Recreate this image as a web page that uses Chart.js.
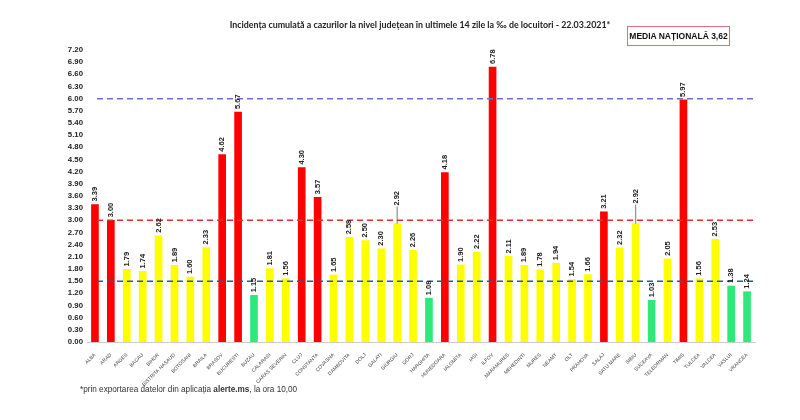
<!DOCTYPE html>
<html>
<head>
<meta charset="utf-8">
<script src="https://cdn.jsdelivr.net/npm/chart.js@4"></script>
<style>
  body { margin:0; background:#fff; }
  #wrap { position:relative; width:800px; height:420px; }
  #title { position:absolute; top:19px; left:20px; width:800px; text-align:center;
    font:bold 8.9px Lato, "Liberation Sans", sans-serif; color:#222; }
  #media { position:absolute; left:627px; top:26px; width:103px; height:20px; box-sizing:border-box;
    border:1px solid #e07080; font:bold 8.5px "Liberation Sans", Arial, sans-serif; color:#111;
    text-align:center; line-height:18px; }
  #note { position:absolute; left:80px; top:385px; font:8.2px "Liberation Sans", Arial, sans-serif; color:#333; }
</style>
</head>
<body>
<div id="wrap">
  <canvas id="chart" width="800" height="420"></canvas>
  <div id="title">Incidența cumulată a cazurilor la nivel județean în ultimele 14 zile la ‰ de locuitori - 22.03.2021*</div>
  <div id="media">MEDIA NAȚIONALĂ 3,62</div>
  <div id="note">*prin exportarea datelor din aplicația <b>alerte.ms</b>, la ora 10,00</div>
</div>
<script>
const judete = ["ALBA","ARAD","ARGES","BACAU","BIHOR","BISTRITA NASAUD","BOTOSANI","BRAILA","BRASOV","BUCURESTI",
  "BUZAU","CALARASI","CARAS SEVERIN","CLUJ","CONSTANTA","COVASNA","DAMBOVITA","DOLJ","GALATI","GIURGIU",
  "GORJ","HARGHITA","HUNEDOARA","IALOMITA","IASI","ILFOV","MARAMURES","MEHEDINTI","MURES","NEAMT",
  "OLT","PRAHOVA","SALAJ","SATU MARE","SIBIU","SUCEAVA","TELEORMAN","TIMIS","TULCEA","VALCEA",
  "VASLUI","VRANCEA"];
const incidenta = [3.39,3.00,1.79,1.74,2.62,1.89,1.60,2.33,4.62,5.67,
  1.15,1.81,1.56,4.30,3.57,1.65,2.58,2.50,2.30,2.92,
  2.26,1.08,4.18,1.90,2.22,6.78,2.11,1.89,1.78,1.94,
  1.54,1.66,3.21,2.32,2.92,1.03,2.05,5.97,1.56,2.53,
  1.38,1.24];
const praguri = [1.5, 3.0, 6.0];
const culoriPrag = ["#1f5f9a", "#e0302a", "#6f6fd0"];
// a couple of labels sit higher with a leader line, like in the original
const ridicate = { 19: 15, 34: 17 };

// bar colour follows the same thresholds as the dashed lines
function culoare(v){
  if(v >= 3) return "#ff0000";
  if(v >= 1.5) return "#ffff00";
  return "#2ee87a";
}

// dashed threshold lines and rotated value labels
const extra = {
  id: "extra",
  afterDatasetsDraw(chart){
    const ctx = chart.ctx, area = chart.chartArea, y = chart.scales.y;
    ctx.save();
    ctx.lineWidth = 1.5;
    ctx.setLineDash([6,4]);
    praguri.forEach((p,i) => {
      const py = y.getPixelForValue(p);
      ctx.strokeStyle = culoriPrag[i];
      ctx.beginPath();
      ctx.moveTo(area.left + 10, py);
      ctx.lineTo(area.right, py);
      ctx.stroke();
    });
    ctx.setLineDash([]);
    ctx.fillStyle = "#222";
    ctx.font = "bold 7.5px 'Liberation Sans', Arial, sans-serif";
    ctx.textAlign = "left";
    ctx.textBaseline = "middle";
    chart.getDatasetMeta(0).data.forEach((bar,i) => {
      const up = ridicate[i] || 0;
      if(up){
        ctx.strokeStyle = "#555";
        ctx.lineWidth = 0.8;
        ctx.beginPath();
        ctx.moveTo(bar.x, bar.y);
        ctx.lineTo(bar.x, bar.y - up - 2);
        ctx.stroke();
      }
      ctx.save();
      ctx.translate(bar.x, bar.y - 3 - up);
      ctx.rotate(-Math.PI/2);
      ctx.fillText(incidenta[i].toFixed(2), 0, 0);
      ctx.restore();
    });
    ctx.restore();
  }
};

new Chart(document.getElementById("chart"), {
  type: "bar",
  data: {
    labels: judete,
    datasets: [{
      data: incidenta,
      backgroundColor: incidenta.map(culoare),
      barThickness: 7
    }]
  },
  options: {
    responsive: false,
    animation: false,
    layout: { padding: { left: 58, right: 45, top: 50, bottom: 0 } },
    plugins: { legend: { display: false }, tooltip: { enabled: false } },
    scales: {
      y: {
        min: 0, max: 7.2,
        afterFit(s){ s.width = 29; },
        grid: { display: false, drawTicks: false },
        border: { display: false },
        ticks: {
          stepSize: 0.3,
          autoSkip: false,
          padding: 4,
          color: "#222",
          font: { size: 7.8, weight: "bold", family: "'Liberation Sans', Arial, sans-serif" },
          callback: v => Number(v).toFixed(2)
        }
      },
      x: {
        afterFit(s){ s.height = 78; },
        grid: { display: false },
        border: { color: "#ccc" },
        ticks: {
          autoSkip: false,
          minRotation: 45, maxRotation: 45,
          padding: 2,
          color: "#444",
          font: { size: 5, family: "'Liberation Sans', Arial, sans-serif" }
        }
      }
    }
  },
  plugins: [extra]
});
</script>
</body>
</html>
